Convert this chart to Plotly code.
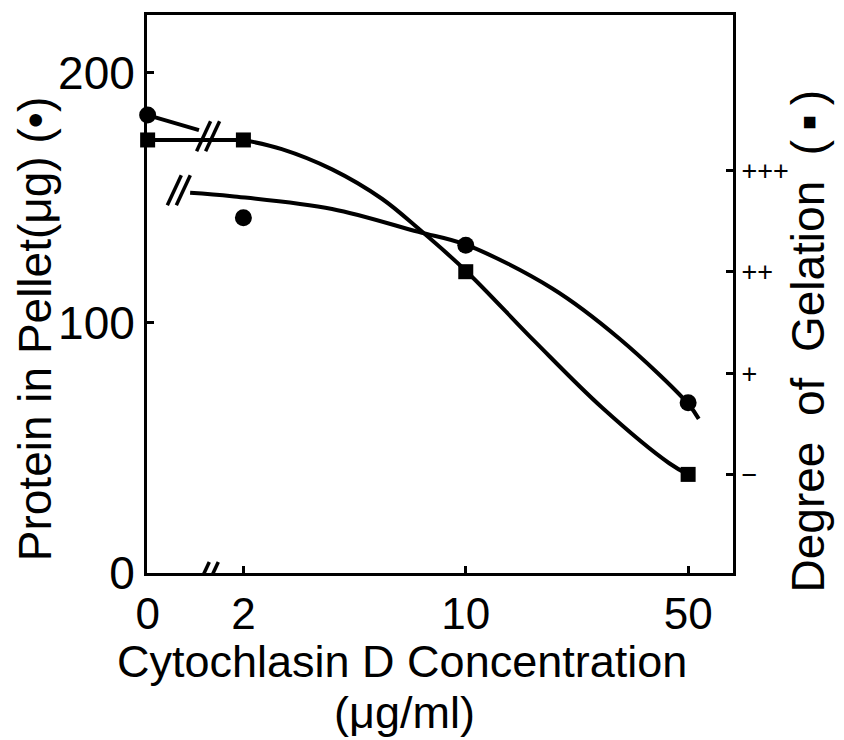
import math
import plotly.graph_objects as go

# measured values (concentration in ug/ml, 0 is drawn at the axis break)
conc = [0, 2, 10, 50]
protein = [183, 142, 131, 68]          # Protein in pellet (ug), circles
gelation = [3.3, 3.3, 2, 0]            # degree of gelation, squares

# hand-drawn curves
prot_seg_conc = [0, 1.45]
prot_seg = [183, 177]
prot_fit_conc = [1.36, 1.84, 3.8, 7.1, 10, 18.7, 30.3, 50, 54]
prot_fit = [152, 150.6, 145.5, 136.3, 131.2, 113.7, 93.8, 67.6, 61.6]
gel_seg_conc = [0, 2]
gel_seg = [3.3, 3.3]
gel_fit_conc = [2, 2.64, 3.8, 5.45, 7.13, 10, 16.5, 26.8, 43.6, 50]
gel_fit = [3.3, 3.21, 3.01, 2.72, 2.42, 2.01, 1.31, 0.66, 0.11, 0]

x_ticks = ["0", "2", "10", "50"]
y_ticks = [0, 100, 200]
gel_ticks = [0, 1, 2, 3]
gel_labels = ["\u2212", "+", "++", "+++"]


def pos(c):
    # log scale, zero placed at the break (where 1 would be)
    return math.log10(c) if c > 0 else 0.0


FONT = "Liberation Sans, Arial, sans-serif"
BLACK = "black"
fig = go.Figure()

line = dict(color=BLACK, width=4)
spline = dict(color=BLACK, width=4, shape="spline", smoothing=1.0)
fig.add_trace(go.Scatter(x=[pos(c) for c in prot_seg_conc], y=prot_seg, mode="lines", line=line))
fig.add_trace(go.Scatter(x=[pos(c) for c in prot_fit_conc], y=prot_fit, mode="lines", line=spline))
fig.add_trace(go.Scatter(x=[pos(c) for c in gel_seg_conc], y=gel_seg, mode="lines", line=line, yaxis="y2"))
fig.add_trace(go.Scatter(x=[pos(c) for c in gel_fit_conc], y=gel_fit, mode="lines", line=spline, yaxis="y2"))
fig.add_trace(go.Scatter(x=[pos(c) for c in conc], y=protein, mode="markers", cliponaxis=False,
                         marker=dict(symbol="circle", size=17, color=BLACK)))
fig.add_trace(go.Scatter(x=[pos(c) for c in conc], y=gelation, mode="markers", yaxis="y2", cliponaxis=False,
                         marker=dict(symbol="square", size=15, color=BLACK)))

# break marks "//" : (x position, y value)
breaks = [(0.190, 174.5), (0.098, 153.0), (0.186, -1.6)]
for bx, by in breaks:
    for dx in (-4.5, 4.5):
        fig.add_shape(type="line", xref="x", yref="y", xsizemode="pixel", ysizemode="pixel",
                      xanchor=bx, yanchor=by, x0=dx - 7, x1=dx + 7, y0=-15, y1=15,
                      line=dict(color=BLACK, width=3.5))

title_font = dict(size=46, family=FONT, color=BLACK)
ann = dict(xref="paper", yref="paper", showarrow=False, xanchor="center", yanchor="middle")
fig.add_annotation(text="Protein in Pellet(\u03bcg) (\u2022)", textangle=-90,
                   x=-0.191, y=0.437, font=title_font, **ann)
fig.add_annotation(text="Degree\u00a0\u00a0of\u00a0\u00a0Gelation\u00a0\u00a0(\u2009\u25aa\u2009)", textangle=-90,
                   x=1.128, y=0.415, font=title_font, **ann)
fig.add_annotation(text="Cytochlasin D Concentration", x=0.435, y=-0.158,
                   font=dict(size=45, family=FONT, color=BLACK), **ann)
fig.add_annotation(text="(\u03bcg/ml)", x=0.439, y=-0.250,
                   font=dict(size=45, family=FONT, color=BLACK), **ann)

fig.update_layout(
    width=844, height=740,
    # page body adds an 8px offset, margins compensate for it
    margin=dict(l=139, r=119, t=4, b=175),
    paper_bgcolor="white", plot_bgcolor="white",
    showlegend=False,
    font=dict(family=FONT, color=BLACK),
    xaxis=dict(range=[-0.002, 1.840], tickvals=[pos(c) for c in conc], ticktext=x_ticks,
               ticks="inside", ticklen=7, tickwidth=3, tickcolor=BLACK,
               showline=True, linewidth=3, linecolor=BLACK, mirror=True,
               showgrid=False, zeroline=False, tickfont=dict(size=44)),
    yaxis=dict(range=[0, 223], tickvals=y_ticks, ticks="inside", ticklen=7, tickwidth=3,
               tickcolor=BLACK, showline=True, linewidth=3, linecolor=BLACK,
               showgrid=False, zeroline=False, tickfont=dict(size=46)),
    yaxis2=dict(range=[-0.973, 4.533], overlaying="y", side="right", tickvals=gel_ticks,
                ticktext=gel_labels, ticks="inside", ticklen=7, tickwidth=3, tickcolor=BLACK,
                showline=True, linewidth=3, linecolor=BLACK, showgrid=False, zeroline=False,
                tickfont=dict(size=27, family=FONT)),
)

fig.write_html("out.html")
